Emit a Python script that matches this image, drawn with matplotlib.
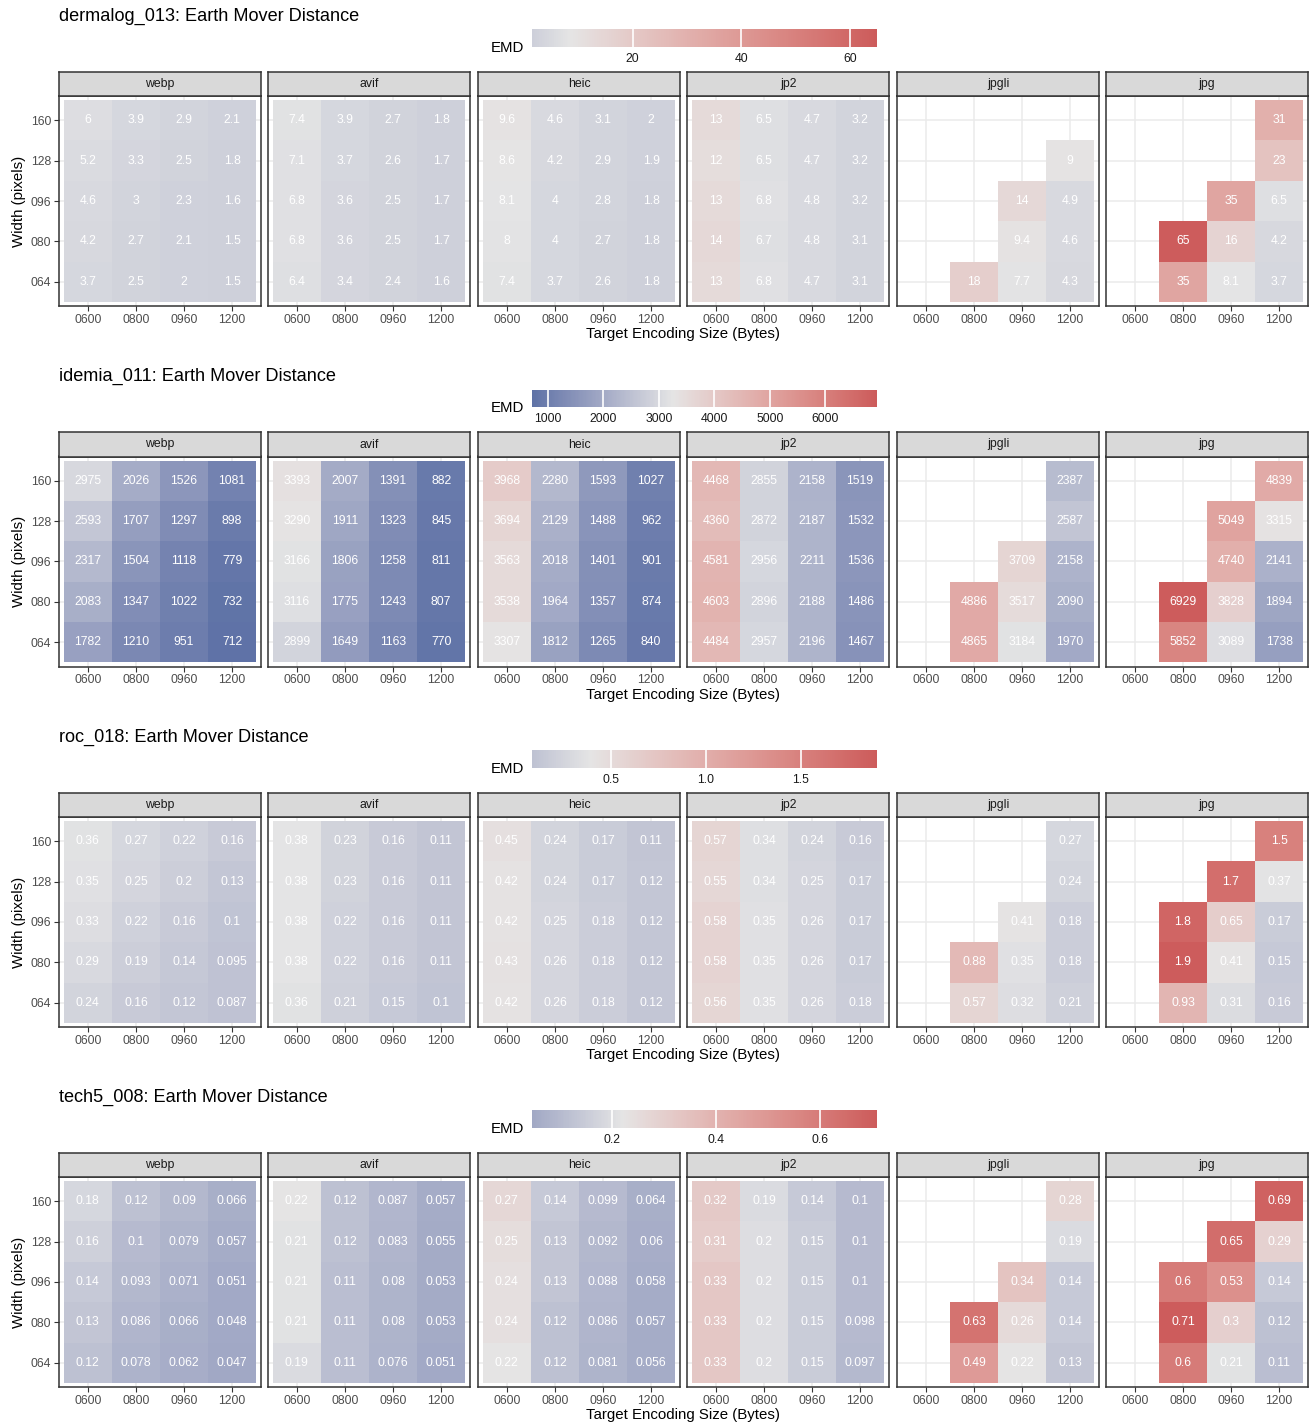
import numpy as np
import matplotlib.pyplot as plt
from matplotlib.colors import ListedColormap, Normalize, to_rgb

plt.rcParams['font.family'] = ['Liberation Sans', 'DejaVu Sans']

nan = np.nan
codecs = ["webp", "avif", "heic", "jp2", "jpgli", "jpg"]
sizes = ["0600", "0800", "0960", "1200"]
widths = ["160", "128", "096", "080", "064"]  # rows listed top to bottom

dermalog = {
    "webp": [[6, 3.9, 2.9, 2.1], [5.2, 3.3, 2.5, 1.8], [4.6, 3, 2.3, 1.6], [4.2, 2.7, 2.1, 1.5], [3.7, 2.5, 2, 1.5]],
    "avif": [[7.4, 3.9, 2.7, 1.8], [7.1, 3.7, 2.6, 1.7], [6.8, 3.6, 2.5, 1.7], [6.8, 3.6, 2.5, 1.7], [6.4, 3.4, 2.4, 1.6]],
    "heic": [[9.6, 4.6, 3.1, 2], [8.6, 4.2, 2.9, 1.9], [8.1, 4, 2.8, 1.8], [8, 4, 2.7, 1.8], [7.4, 3.7, 2.6, 1.8]],
    "jp2": [[13, 6.5, 4.7, 3.2], [12, 6.5, 4.7, 3.2], [13, 6.8, 4.8, 3.2], [14, 6.7, 4.8, 3.1], [13, 6.8, 4.7, 3.1]],
    "jpgli": [[nan, nan, nan, nan], [nan, nan, nan, 9], [nan, nan, 14, 4.9], [nan, nan, 9.4, 4.6], [nan, 18, 7.7, 4.3]],
    "jpg": [[nan, nan, nan, 31], [nan, nan, nan, 23], [nan, nan, 35, 6.5], [nan, 65, 16, 4.2], [nan, 35, 8.1, 3.7]],
}

idemia = {
    "webp": [[2975, 2026, 1526, 1081], [2593, 1707, 1297, 898], [2317, 1504, 1118, 779], [2083, 1347, 1022, 732], [1782, 1210, 951, 712]],
    "avif": [[3393, 2007, 1391, 882], [3290, 1911, 1323, 845], [3166, 1806, 1258, 811], [3116, 1775, 1243, 807], [2899, 1649, 1163, 770]],
    "heic": [[3968, 2280, 1593, 1027], [3694, 2129, 1488, 962], [3563, 2018, 1401, 901], [3538, 1964, 1357, 874], [3307, 1812, 1265, 840]],
    "jp2": [[4468, 2855, 2158, 1519], [4360, 2872, 2187, 1532], [4581, 2956, 2211, 1536], [4603, 2896, 2188, 1486], [4484, 2957, 2196, 1467]],
    "jpgli": [[nan, nan, nan, 2387], [nan, nan, nan, 2587], [nan, nan, 3709, 2158], [nan, 4886, 3517, 2090], [nan, 4865, 3184, 1970]],
    "jpg": [[nan, nan, nan, 4839], [nan, nan, 5049, 3315], [nan, nan, 4740, 2141], [nan, 6929, 3828, 1894], [nan, 5852, 3089, 1738]],
}

roc = {
    "webp": [[0.36, 0.27, 0.22, 0.16], [0.35, 0.25, 0.2, 0.13], [0.33, 0.22, 0.16, 0.1], [0.29, 0.19, 0.14, 0.095], [0.24, 0.16, 0.12, 0.087]],
    "avif": [[0.38, 0.23, 0.16, 0.11], [0.38, 0.23, 0.16, 0.11], [0.38, 0.22, 0.16, 0.11], [0.38, 0.22, 0.16, 0.11], [0.36, 0.21, 0.15, 0.1]],
    "heic": [[0.45, 0.24, 0.17, 0.11], [0.42, 0.24, 0.17, 0.12], [0.42, 0.25, 0.18, 0.12], [0.43, 0.26, 0.18, 0.12], [0.42, 0.26, 0.18, 0.12]],
    "jp2": [[0.57, 0.34, 0.24, 0.16], [0.55, 0.34, 0.25, 0.17], [0.58, 0.35, 0.26, 0.17], [0.58, 0.35, 0.26, 0.17], [0.56, 0.35, 0.26, 0.18]],
    "jpgli": [[nan, nan, nan, 0.27], [nan, nan, nan, 0.24], [nan, nan, 0.41, 0.18], [nan, 0.88, 0.35, 0.18], [nan, 0.57, 0.32, 0.21]],
    "jpg": [[nan, nan, nan, 1.5], [nan, nan, 1.7, 0.37], [nan, 1.8, 0.65, 0.17], [nan, 1.9, 0.41, 0.15], [nan, 0.93, 0.31, 0.16]],
}

tech5 = {
    "webp": [[0.18, 0.12, 0.09, 0.066], [0.16, 0.1, 0.079, 0.057], [0.14, 0.093, 0.071, 0.051], [0.13, 0.086, 0.066, 0.048], [0.12, 0.078, 0.062, 0.047]],
    "avif": [[0.22, 0.12, 0.087, 0.057], [0.21, 0.12, 0.083, 0.055], [0.21, 0.11, 0.08, 0.053], [0.21, 0.11, 0.08, 0.053], [0.19, 0.11, 0.076, 0.051]],
    "heic": [[0.27, 0.14, 0.099, 0.064], [0.25, 0.13, 0.092, 0.06], [0.24, 0.13, 0.088, 0.058], [0.24, 0.12, 0.086, 0.057], [0.22, 0.12, 0.081, 0.056]],
    "jp2": [[0.32, 0.19, 0.14, 0.1], [0.31, 0.2, 0.15, 0.1], [0.33, 0.2, 0.15, 0.1], [0.33, 0.2, 0.15, 0.098], [0.33, 0.2, 0.15, 0.097]],
    "jpgli": [[nan, nan, nan, 0.28], [nan, nan, nan, 0.19], [nan, nan, 0.34, 0.14], [nan, 0.63, 0.26, 0.14], [nan, 0.49, 0.22, 0.13]],
    "jpg": [[nan, nan, nan, 0.69], [nan, nan, 0.65, 0.29], [nan, 0.6, 0.53, 0.14], [nan, 0.71, 0.3, 0.12], [nan, 0.6, 0.21, 0.11]],
}

titles = ["dermalog_013", "idemia_011", "roc_018", "tech5_008"]
blocks = [dermalog, idemia, roc, tech5]
midpoints = [8.5, 3250, 0.39, 0.22]
bar_ticks = [[20, 40, 60], [1000, 2000, 3000, 4000, 5000, 6000], [0.5, 1.0, 1.5], [0.2, 0.4, 0.6]]
bar_labels = [["20", "40", "60"], ["1000", "2000", "3000", "4000", "5000", "6000"],
              ["0.5", "1.0", "1.5"], ["0.2", "0.4", "0.6"]]

W, H = 1316, 1424
WHITE = np.array([0.95047, 1.0, 1.08883])
M = np.array([[0.4124, 0.3576, 0.1805], [0.2126, 0.7152, 0.0722], [0.0193, 0.1192, 0.9505]])


def to_lab(c):
    c = np.array(to_rgb(c))
    lin = np.where(c <= 0.04045, c / 12.92, ((c + 0.055) / 1.055) ** 2.4)
    xyz = M @ lin / WHITE
    f = np.where(xyz > 0.008856, np.cbrt(xyz), 7.787 * xyz + 16 / 116)
    return np.array([116 * f[1] - 16, 500 * (f[0] - f[1]), 200 * (f[1] - f[2])])


def from_lab(lab):
    fy = (lab[:, 0] + 16) / 116
    f = np.stack([fy + lab[:, 1] / 500, fy, fy - lab[:, 2] / 200], axis=1)
    xyz = np.where(f > 0.2069, f ** 3, (f - 16 / 116) / 7.787) * WHITE
    lin = np.clip(xyz @ np.linalg.inv(M).T, 0, 1)
    return np.clip(np.where(lin <= 0.0031308, 12.92 * lin, 1.055 * lin ** (1 / 2.4) - 0.055), 0, 1)


# diverging palette interpolated in Lab, like scale_fill_gradient2
low, mid, high = to_lab("#00468B"), to_lab("#E5E5E5"), to_lab("#CD5C5C")
t = np.linspace(0, 1, 256)[:, None]
labs = np.where(t < 0.5, low + (mid - low) * (t / 0.5), mid + (high - mid) * ((t - 0.5) / 0.5))
cmap = ListedColormap(from_lab(labs))


def box(x0, y0, x1, y1):
    # pixel box (top-left origin) -> figure fraction rect
    return [x0 / W, 1 - y1 / H, (x1 - x0) / W, (y1 - y0) / H]


fig = plt.figure(figsize=(W / 100, H / 100), dpi=100)

lefts = [59, 268, 478, 687, 897, 1106]
pw = 202
offsets = [0, 360.5, 721, 1081]
fs = 8.8

for b, data in enumerate(blocks):
    off = offsets[b]
    allv = np.concatenate([np.array(data[c], dtype=float).ravel() for c in codecs])
    allv = allv[~np.isnan(allv)]
    vmin, vmax = allv.min(), allv.max()
    m = midpoints[b]
    d = max(m - vmin, vmax - m)
    norm = Normalize(vmin=m - d, vmax=m + d)

    fig.text(59 / W, 1 - (16 + off) / H, f"{titles[b]}: Earth Mover Distance",
             fontsize=13.1, ha="left", va="center")

    # colourbar
    cax = fig.add_axes(box(532, 29 + off, 877, 47 + off))
    grad = np.linspace(vmin, vmax, 300).reshape(1, -1)
    cax.imshow(grad, aspect="auto", cmap=cmap, norm=norm, extent=[vmin, vmax, 0, 1])
    for tk in bar_ticks[b]:
        cax.axvline(tk, color="white", lw=1.2)
    cax.set_xlim(vmin, vmax)
    cax.set_ylim(0, 1)
    cax.set_yticks([])
    cax.set_xticks(bar_ticks[b])
    cax.set_xticklabels(bar_labels[b], fontsize=fs, color="#1A1A1A")
    cax.tick_params(axis="x", length=0, pad=4)
    for s in cax.spines.values():
        s.set_visible(False)
    fig.text(524 / W, 1 - (48 + off) / H, "EMD", fontsize=10.8, ha="right", va="center")

    for k, codec in enumerate(codecs):
        x0 = lefts[k]
        vals = np.array(data[codec], dtype=float)[::-1]  # bottom row first
        ax = fig.add_axes(box(x0, 96 + off, x0 + pw, 306 + off))
        ax.pcolormesh(np.arange(5) - 0.5, np.arange(6) - 0.5, np.ma.masked_invalid(vals),
                      cmap=cmap, norm=norm, zorder=1)
        for i in range(5):
            for j in range(4):
                if not np.isnan(vals[i, j]):
                    ax.text(j, i, "%g" % vals[i, j], ha="center", va="center",
                            color="white", fontsize=fs, zorder=3)
        ax.set_xlim(-0.6, 3.6)
        ax.set_ylim(-0.6, 4.6)
        ax.set_xticks(range(4))
        ax.set_xticklabels(sizes, fontsize=fs, color="#4D4D4D")
        ax.set_yticks(range(5))
        if k == 0:
            ax.set_yticklabels(widths[::-1], fontsize=fs, color="#4D4D4D")
            ax.tick_params(axis="y", length=3.5, width=0.8, color="#333333", pad=2)
        else:
            ax.set_yticklabels([])
            ax.tick_params(axis="y", length=0)
        ax.tick_params(axis="x", length=3.5, width=0.8, color="#333333", pad=2)
        ax.grid(True, color="#EBEBEB", lw=1.1)
        ax.set_axisbelow(True)
        for s in ax.spines.values():
            s.set_color("#333333")
            s.set_linewidth(1.1)

        sax = fig.add_axes(box(x0, 72 + off, x0 + pw, 96 + off))
        sax.set_facecolor("#D9D9D9")
        sax.set_xticks([])
        sax.set_yticks([])
        for s in sax.spines.values():
            s.set_color("#333333")
            s.set_linewidth(1.1)
        sax.text(0.5, 0.5, codec, ha="center", va="center", fontsize=fs,
                 color="#1A1A1A", transform=sax.transAxes)

    fig.text(683.5 / W, 1 - (334 + off) / H, "Target Encoding Size (Bytes)",
             fontsize=10.8, ha="center", va="center")
    fig.text(19 / W, 1 - (201 + off) / H, "Width (pixels)", fontsize=10.8,
             ha="center", va="center", rotation=90)

fig.savefig("out.png", dpi=100, facecolor="white")
